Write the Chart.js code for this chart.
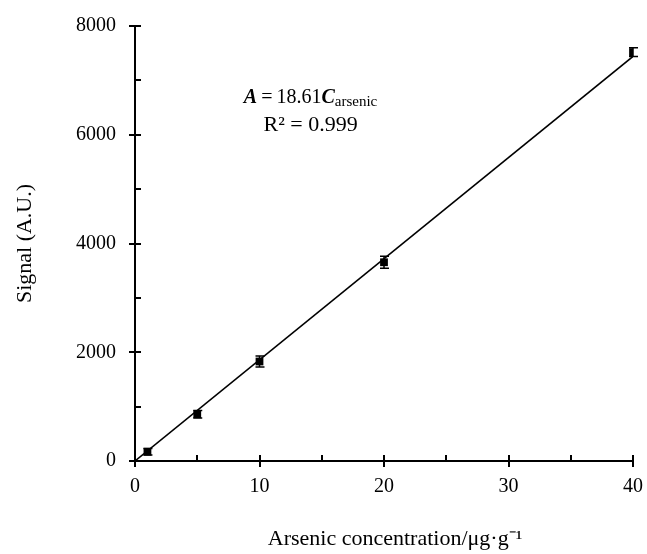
<!DOCTYPE html>
<html>
<head>
<meta charset="utf-8">
<script src="https://cdn.jsdelivr.net/npm/chart.js@4/dist/chart.umd.min.js"></script>
<style>
  html, body { margin: 0; padding: 0; background: #fff; }
  #wrap { width: 647px; height: 554px; }
</style>
</head>
<body>
<div id="wrap"><canvas id="calChart" width="647" height="554"></canvas></div>
<script>
var concentrations = [1, 5, 10, 20, 40];
var signals = [170, 860, 1830, 3655, 7520];
var errors = [60, 70, 100, 110, 80];

// fitted line end points
var fitX = [0, 40];
var fitY = [0, 7440];

var xTickStep = 10, xMinorStep = 5;
var yTickStep = 2000, yMinorStep = 1000;

var FONT = '"Liberation Serif", "Times New Roman", serif';
var X_TITLE = 'Arsenic concentration/\u03bcg\u00b7g\u207b\u00b9';

// error bars with caps
var errorBarPlugin = {
    id: 'errorBars',
    afterDatasetsDraw: function(chart) {
        var ctx = chart.ctx, xs = chart.scales.x, ys = chart.scales.y;
        ctx.save();
        ctx.strokeStyle = '#000';
        ctx.lineWidth = 1.5;
        for (var i = 0; i < concentrations.length; i++) {
            var px = xs.getPixelForValue(concentrations[i]);
            var top = ys.getPixelForValue(signals[i] + errors[i]);
            var bot = ys.getPixelForValue(signals[i] - errors[i]);
            ctx.beginPath();
            ctx.moveTo(px, top); ctx.lineTo(px, bot);
            ctx.moveTo(px - 4, top); ctx.lineTo(px + 5, top);
            ctx.moveTo(px - 4, bot); ctx.lineTo(px + 5, bot);
            ctx.stroke();
        }
        ctx.restore();
    }
};

// tick marks: major cross the axis, minor point inward; x title
var tickMarkPlugin = {
    id: 'tickMarks',
    afterDraw: function(chart) {
        var ctx = chart.ctx, xs = chart.scales.x, ys = chart.scales.y;
        var ax = xs.getPixelForValue(xs.min);
        var ay = ys.getPixelForValue(ys.min);
        ctx.save();
        ctx.strokeStyle = '#000';
        ctx.lineWidth = 2;
        ctx.beginPath();
        for (var v = ys.min; v <= ys.max; v += yMinorStep) {
            var py = Math.round(ys.getPixelForValue(v));
            var major = v % yTickStep === 0;
            ctx.moveTo(ax - (major ? 6 : 0), py);
            ctx.lineTo(ax + 6, py);
        }
        for (var u = xs.min; u <= xs.max; u += xMinorStep) {
            var px = Math.round(xs.getPixelForValue(u));
            var majorX = u % xTickStep === 0;
            ctx.moveTo(px, ay + (majorX ? 6 : 0));
            ctx.lineTo(px, ay - 6);
        }
        ctx.stroke();

        // x axis title, a little right of centre as in the original
        ctx.fillStyle = '#000';
        ctx.font = '22px ' + FONT;
        ctx.textAlign = 'center';
        ctx.textBaseline = 'middle';
        ctx.fillText(X_TITLE, (xs.left + xs.right) / 2 + 11, ay + 78);
        ctx.restore();
    }
};

// regression equation text
var equationPlugin = {
    id: 'equation',
    afterDraw: function(chart) {
        var ctx = chart.ctx, xs = chart.scales.x, ys = chart.scales.y;
        var cx = xs.getPixelForValue(14.1);
        var y1 = ys.getPixelForValue(6680);
        var y2 = ys.getPixelForValue(6180);
        var parts = [
            { t: 'A', f: 'italic bold 20px ' + FONT, dy: 0 },
            { t: '\u2009=\u200918.61', f: '20px ' + FONT, dy: 0 },
            { t: 'C', f: 'italic bold 20px ' + FONT, dy: 0 },
            { t: 'arsenic', f: '15px ' + FONT, dy: 4 }
        ];
        ctx.save();
        ctx.fillStyle = '#000';
        ctx.textBaseline = 'middle';
        ctx.textAlign = 'left';
        var total = 0;
        parts.forEach(function(p) { ctx.font = p.f; p.w = ctx.measureText(p.t).width; total += p.w; });
        var x = cx - total / 2;
        parts.forEach(function(p) {
            ctx.font = p.f;
            ctx.fillText(p.t, x, y1 + p.dy);
            x += p.w;
        });
        ctx.font = '22px ' + FONT;
        ctx.textAlign = 'center';
        ctx.fillText('R\u00b2 = 0.999', cx, y2);
        ctx.restore();
    }
};

new Chart(document.getElementById('calChart').getContext('2d'), {
    type: 'scatter',
    data: {
        datasets: [{
            type: 'line',
            data: fitX.map(function(x, i) { return { x: x, y: fitY[i] }; }),
            borderColor: '#000',
            borderWidth: 1.5,
            pointRadius: 0,
            fill: false
        }, {
            data: concentrations.map(function(x, i) { return { x: x, y: signals[i] }; }),
            backgroundColor: '#000',
            borderColor: '#000',
            pointStyle: 'rect',
            pointRadius: 5.5,
            borderWidth: 0
        }]
    },
    plugins: [errorBarPlugin, tickMarkPlugin, equationPlugin],
    options: {
        responsive: false,
        animation: false,
        layout: { padding: { top: 26, right: 14, left: 0, bottom: 0 } },
        plugins: { legend: { display: false }, tooltip: { enabled: false } },
        scales: {
            x: {
                type: 'linear',
                min: 0, max: 40,
                afterFit: function(scale) {
                    scale.height = 93;
                    scale.paddingLeft = 0;
                    scale.paddingRight = 0;
                },
                grid: { display: true, drawOnChartArea: false, drawTicks: false },
                border: { display: true, color: '#000', width: 2 },
                ticks: { stepSize: xTickStep, padding: 14, color: '#000', font: { family: FONT, size: 20 },
                         format: { useGrouping: false } },
                title: { display: false }
            },
            y: {
                type: 'linear',
                min: 0, max: 8000,
                afterFit: function(scale) {
                    scale.width = 135;
                    scale.paddingTop = 0;
                    scale.paddingBottom = 0;
                },
                grid: { display: true, drawOnChartArea: false, drawTicks: false },
                border: { display: true, color: '#000', width: 2 },
                ticks: { stepSize: yTickStep, padding: 19, color: '#000', font: { family: FONT, size: 20 },
                         format: { useGrouping: false } },
                title: {
                    display: true,
                    text: 'Signal (A.U.)',
                    color: '#000',
                    font: { family: FONT, size: 22 },
                    padding: { top: 12, bottom: 0 }
                }
            }
        }
    }
});
</script>
</body>
</html>
